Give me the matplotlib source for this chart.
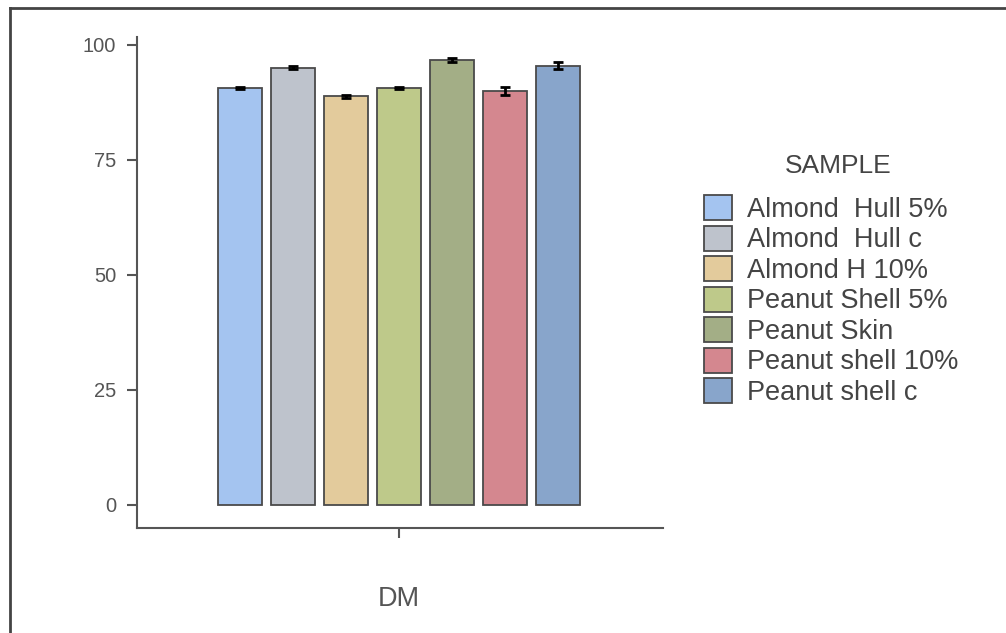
import matplotlib
matplotlib.use("Agg")
import matplotlib.pyplot as plt
from matplotlib.patches import Patch
from matplotlib.lines import Line2D
import numpy as np

plt.rcParams['font.family'] = ['Liberation Sans', 'DejaVu Sans']

groups = ["DM"]
samples = ["Almond  Hull 5%", "Almond  Hull c", "Almond H 10%", "Peanut Shell 5%",
           "Peanut Skin", "Peanut shell 10%", "Peanut shell c"]
values = [90.6, 95.0, 88.8, 90.6, 96.7, 90.0, 95.5]
errors = [0.3, 0.3, 0.3, 0.3, 0.4, 0.8, 0.8]
colors = ["#A4C4F0", "#BEC3CC", "#E3CB9C", "#BEC98A", "#A3AE86", "#D4878F", "#88A5CB"]
yticks = [0, 25, 50, 75, 100]
legend_title = "SAMPLE"

W, H = 1006, 633
fig = plt.figure(figsize=(W / 100, H / 100), dpi=100)

# axes in pixel coordinates
left, right, top, bottom = 137, 663, 37, 528
ax = fig.add_axes([left / W, (H - bottom) / H, (right - left) / W, (bottom - top) / H])

n = len(samples)
width = 0.84
gx = np.arange(len(groups))
for i, (s, v, e, c) in enumerate(zip(samples, values, errors, colors)):
    x = gx + (i - (n - 1) / 2) * 1.0
    ax.bar(x, [v], width=width, color=c, edgecolor="#4a4a4a", linewidth=1.3, label=s)
    ax.errorbar(x, [v], yerr=[e], fmt="none", ecolor="black", elinewidth=2,
                capsize=3.5, capthick=2)

ax.set_xlim(-4.94, 4.98)
ax.set_ylim(-5.0, 101.7)
ax.set_yticks(yticks)
ax.set_yticklabels([str(t) for t in yticks])
ax.set_xticks(gx)
ax.set_xticklabels(groups)

for sp in ["top", "right"]:
    ax.spines[sp].set_visible(False)
for sp in ["left", "bottom"]:
    ax.spines[sp].set_color("#555555")
    ax.spines[sp].set_linewidth(1.5)

ax.tick_params(axis="y", length=7, width=1.5, color="#555555", labelsize=14.5,
               labelcolor="#555555", pad=8)
ax.tick_params(axis="x", length=7, width=1.5, color="#555555", labelsize=19.5,
               labelcolor="#555555", pad=35)

handles = [Patch(facecolor=c, edgecolor="#4a4a4a", linewidth=1.3) for c in colors]
leg = fig.legend(handles, samples, loc="upper left",
                 bbox_to_anchor=(704 / W, (H - 195) / H), frameon=False,
                 fontsize=19.5,
                 handlelength=1.05, handleheight=1.05, labelspacing=0.1,
                 handletextpad=0.55, borderpad=0, borderaxespad=0)
for t in leg.get_texts():
    t.set_color("#444444")
fig.text(838 / W, (H - 166) / H, legend_title, ha="center", va="center",
         fontsize=19, color="#444444")

# outer frame lines (top and left)
fig.add_artist(Line2D([10 / W, 1.0], [(H - 8) / H] * 2, color="#444444", linewidth=2,
                      transform=fig.transFigure))
fig.add_artist(Line2D([10 / W] * 2, [0, (H - 8) / H], color="#444444", linewidth=2,
                      transform=fig.transFigure))

fig.savefig("out.png", dpi=100)
